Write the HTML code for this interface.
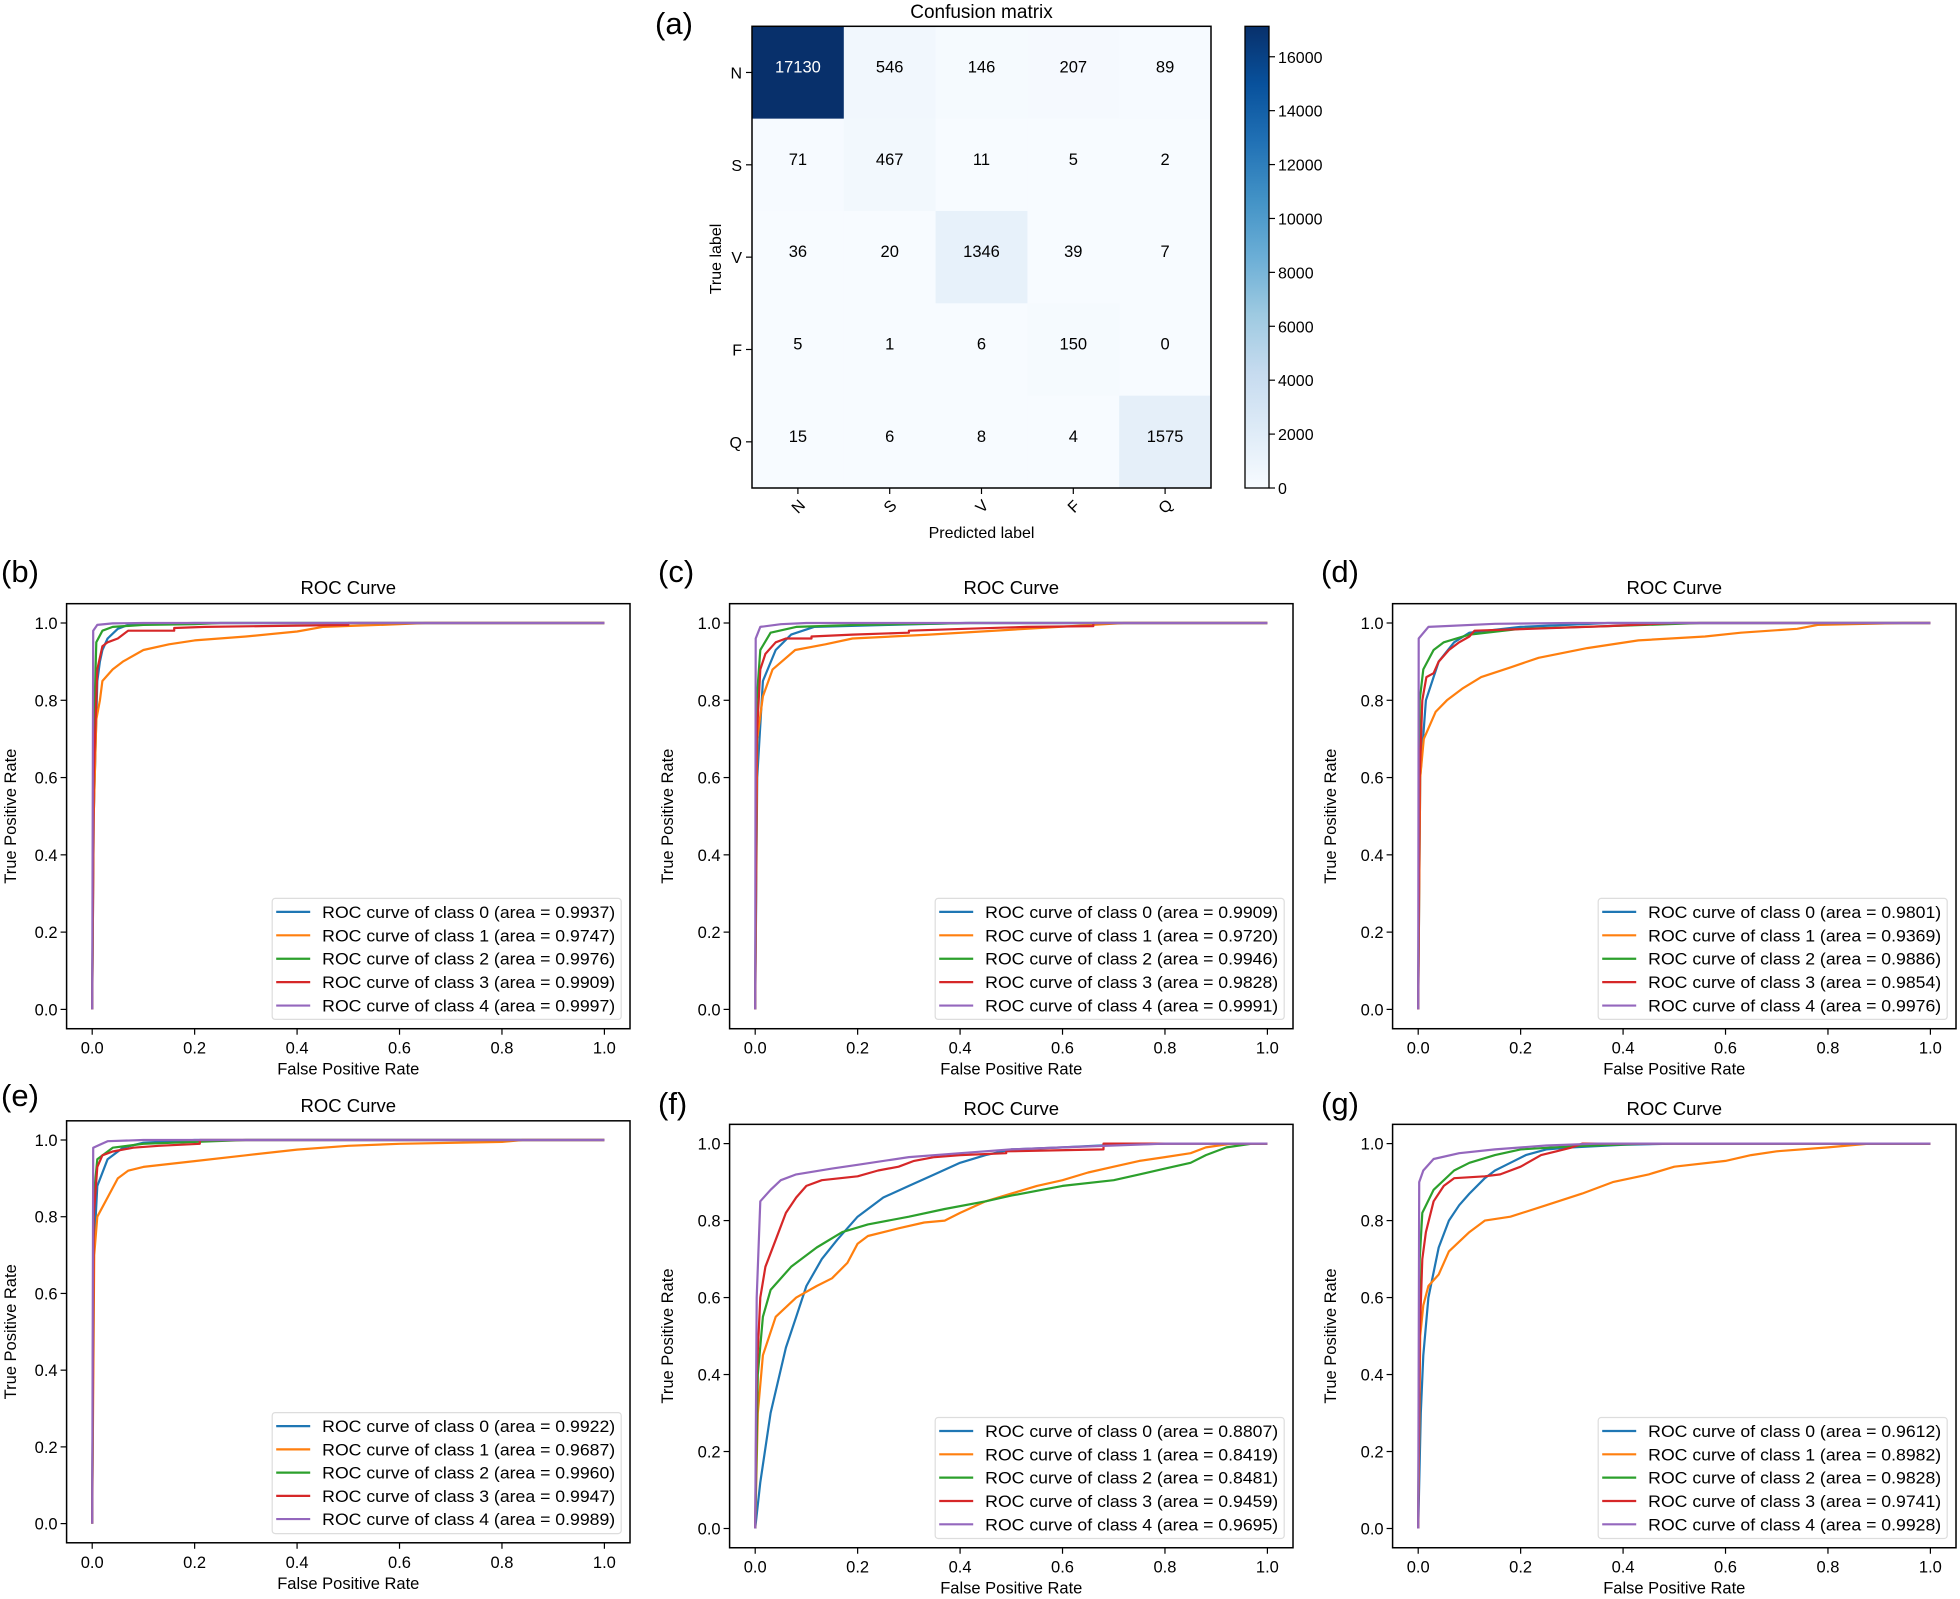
<!DOCTYPE html>
<html><head><meta charset="utf-8"><style>
body{margin:0;background:#fff}
svg{display:block;font-family:"Liberation Sans","DejaVu Sans",sans-serif}
</style></head><body>
<svg id="fig" width="1960" height="1599" viewBox="0 0 1960 1599" xmlns="http://www.w3.org/2000/svg"></svg>
<script>
// ---- Confusion matrix data ----
const cmLabels = ["N","S","V","F","Q"];
const cmRow0 = [17130,546,146,207,89];
const cmRow1 = [71,467,11,5,2];
const cmRow2 = [36,20,1346,39,7];
const cmRow3 = [5,1,6,150,0];
const cmRow4 = [15,6,8,4,1575];
const cmTicks = [0,2000,4000,6000,8000,10000,12000,14000,16000];

// ---- ROC data (fpr / tpr per class) ----
const rocTicks = [0,0.2,0.4,0.6,0.8,1.0];
const rocTickLabels = ["0.0","0.2","0.4","0.6","0.8","1.0"];
const bFpr = [[0,0.003,0.01,0.015,0.02,0.03,0.05,0.07,0.1,0.2,1],
 [0,0.003,0.008,0.015,0.02,0.04,0.06,0.1,0.15,0.2,0.3,0.4,0.45,0.6,0.65,1],
 [0,0.003,0.008,0.02,0.04,0.1,0.2,0.25,1],
 [0,0.003,0.01,0.02,0.03,0.05,0.07,0.16,0.16,0.22,0.5,0.5,1],
 [0,0.002,0.01,0.04,0.1,1]];
const bTpr = [[0,0.5,0.85,0.9,0.93,0.96,0.985,0.995,0.998,1,1],
 [0,0.5,0.75,0.8,0.85,0.88,0.9,0.93,0.945,0.955,0.965,0.978,0.99,0.997,1,1],
 [0,0.7,0.95,0.98,0.99,0.995,0.997,1,1],
 [0,0.6,0.88,0.94,0.95,0.96,0.98,0.98,0.987,0.99,0.995,1,1],
 [0,0.98,0.995,0.999,1,1]];
const bAreas = ["0.9937","0.9747","0.9976","0.9909","0.9997"];

const cFpr = [[0,0.004,0.015,0.04,0.07,0.115,0.26,0.41,1],
 [0,0.004,0.015,0.034,0.078,0.137,0.19,0.34,0.53,0.72,1],
 [0,0.003,0.01,0.03,0.08,0.2,0.42,1],
 [0,0.003,0.01,0.02,0.04,0.06,0.11,0.11,0.19,0.3,0.3,0.41,0.53,0.66,0.66,1],
 [0,0.001,0.01,0.05,0.1,1]];
const cTpr = [[0,0.6,0.85,0.93,0.97,0.99,0.995,1,1],
 [0,0.7,0.81,0.88,0.93,0.945,0.96,0.97,0.985,1,1],
 [0,0.8,0.93,0.975,0.99,0.995,1,1],
 [0,0.7,0.88,0.92,0.95,0.96,0.96,0.965,0.97,0.975,0.98,0.985,0.99,0.992,1,1],
 [0,0.96,0.99,0.997,1,1]];
const cAreas = ["0.9909","0.9720","0.9946","0.9828","0.9991"];

const dFpr = [[0,0.004,0.015,0.04,0.07,0.1,0.2,0.37,1],
 [0,0.004,0.011,0.034,0.056,0.086,0.123,0.18,0.235,0.33,0.43,0.56,0.63,0.74,0.78,0.945,1],
 [0,0.003,0.01,0.03,0.05,0.1,0.2,0.4,0.55,1],
 [0,0.003,0.008,0.016,0.03,0.04,0.06,0.08,0.1,0.11,0.22,0.37,0.5,1],
 [0,0.001,0.02,0.15,0.3,1]];
const dTpr = [[0,0.6,0.8,0.9,0.95,0.975,0.99,1,1],
 [0,0.6,0.7,0.77,0.8,0.83,0.86,0.885,0.91,0.935,0.955,0.965,0.975,0.985,0.995,1,1],
 [0,0.8,0.88,0.93,0.95,0.97,0.985,0.993,1,1],
 [0,0.6,0.8,0.86,0.87,0.9,0.93,0.95,0.965,0.98,0.985,0.992,1,1],
 [0,0.96,0.99,0.998,1,1]];
const dAreas = ["0.9801","0.9369","0.9886","0.9854","0.9976"];

const eFpr = [[0,0.003,0.01,0.03,0.06,0.1,0.2,1],
 [0,0.004,0.01,0.03,0.05,0.07,0.1,0.2,0.3,0.4,0.5,0.6,0.8,0.84,1],
 [0,0.003,0.01,0.04,0.1,0.3,1],
 [0,0.003,0.01,0.02,0.04,0.08,0.13,0.21,0.21,1],
 [0,0.002,0.03,0.1,1]];
const eTpr = [[0,0.7,0.88,0.95,0.98,0.993,1,1],
 [0,0.7,0.8,0.85,0.9,0.92,0.93,0.945,0.96,0.975,0.985,0.99,0.995,1,1],
 [0,0.85,0.95,0.98,0.99,1,1],
 [0,0.8,0.93,0.96,0.97,0.98,0.985,0.99,1,1],
 [0,0.98,0.997,1,1]];
const eAreas = ["0.9922","0.9687","0.9960","0.9947","0.9989"];

const fFpr = [[0,0.01,0.03,0.06,0.08,0.1,0.13,0.16,0.2,0.25,0.3,0.35,0.4,0.45,0.5,0.6,0.7,0.8,1],
 [0,0.005,0.015,0.04,0.08,0.12,0.15,0.18,0.2,0.22,0.28,0.33,0.37,0.4,0.45,0.5,0.55,0.6,0.65,0.7,0.75,0.8,0.85,0.88,0.93,1],
 [0,0.005,0.015,0.03,0.07,0.12,0.17,0.22,0.3,0.37,0.45,0.5,0.6,0.7,0.75,0.8,0.85,0.88,0.92,0.97,1],
 [0,0.003,0.01,0.02,0.04,0.06,0.08,0.1,0.13,0.2,0.24,0.28,0.31,0.35,0.4,0.49,0.49,0.68,0.68,1],
 [0,0.003,0.01,0.03,0.05,0.08,0.15,0.2,0.3,0.4,0.5,0.6,0.7,0.8,1]];
const fTpr = [[0,0.12,0.3,0.47,0.55,0.63,0.7,0.75,0.81,0.86,0.89,0.92,0.95,0.97,0.985,0.99,0.997,1,1],
 [0,0.3,0.45,0.55,0.6,0.63,0.65,0.69,0.74,0.76,0.78,0.795,0.8,0.82,0.85,0.87,0.89,0.905,0.925,0.94,0.955,0.965,0.975,0.99,1,1],
 [0,0.4,0.55,0.62,0.68,0.73,0.77,0.79,0.81,0.83,0.85,0.865,0.89,0.905,0.92,0.935,0.95,0.97,0.99,1,1],
 [0,0.4,0.6,0.68,0.75,0.82,0.86,0.89,0.905,0.915,0.93,0.94,0.955,0.965,0.97,0.975,0.98,0.985,1,1],
 [0,0.6,0.85,0.88,0.905,0.92,0.935,0.945,0.965,0.975,0.985,0.99,0.995,1,1]];
const fAreas = ["0.8807","0.8419","0.8481","0.9459","0.9695"];

const gFpr = [[0,0.005,0.01,0.02,0.04,0.06,0.08,0.1,0.13,0.15,0.18,0.21,0.25,0.3,0.4,0.5,1],
 [0,0.004,0.01,0.02,0.04,0.06,0.1,0.13,0.18,0.25,0.32,0.38,0.45,0.5,0.6,0.65,0.7,0.8,0.88,1],
 [0,0.003,0.008,0.03,0.07,0.1,0.15,0.2,0.3,0.45,1],
 [0,0.003,0.008,0.015,0.03,0.05,0.07,0.13,0.16,0.2,0.24,0.27,0.3,0.32,1],
 [0,0.002,0.01,0.03,0.08,0.15,0.25,0.35,1]];
const gTpr = [[0,0.3,0.45,0.6,0.73,0.8,0.84,0.87,0.91,0.93,0.95,0.97,0.985,0.99,0.997,1,1],
 [0,0.5,0.58,0.63,0.66,0.72,0.77,0.8,0.81,0.84,0.87,0.9,0.92,0.94,0.955,0.97,0.98,0.99,1,1],
 [0,0.7,0.82,0.88,0.93,0.95,0.97,0.985,0.993,1,1],
 [0,0.5,0.7,0.77,0.85,0.89,0.91,0.915,0.92,0.94,0.97,0.98,0.99,1,1],
 [0,0.9,0.93,0.96,0.975,0.985,0.995,1,1]];
const gAreas = ["0.9612","0.8982","0.9828","0.9741","0.9928"];

const NS = "http://www.w3.org/2000/svg";
const svg = document.getElementById("fig");
const colors = ["#1f77b4","#ff7f0e","#2ca02c","#d62728","#9467bd"];

function mk(tag, attrs, parent, txt){
  const e = document.createElementNS(NS, tag);
  for (const k in attrs) e.setAttribute(k, attrs[k]);
  if (txt !== undefined) e.textContent = txt;
  (parent || svg).appendChild(e);
  return e;
}

const bluesStops = [[247,251,255],[222,235,247],[198,219,239],[158,202,225],[107,174,214],[66,146,198],[33,113,181],[8,81,156],[8,48,107]];
function blues(t){
  t = Math.max(0, Math.min(1, t));
  const p = t*(bluesStops.length-1), i = Math.min(Math.floor(p), bluesStops.length-2), f = p-i;
  const a = bluesStops[i], b = bluesStops[i+1];
  return "rgb(" + a.map((v,k)=>Math.round(v+(b[k]-v)*f)).join(",") + ")";
}

// ---- Confusion matrix ----
const cmRows = [cmRow0,cmRow1,cmRow2,cmRow3,cmRow4];
const cmL = 752, cmR = 1211, cmT = 26.3, cmB = 488;
const cw = (cmR-cmL)/5, ch = (cmB-cmT)/5;
const cmVmax = Math.max(...cmRows.flat());
const cmG = mk("g", {});


cmRows.forEach((row, i) => {
  row.forEach((v, j) => {
    const r = mk("rect", {x: cmL+j*cw, y: cmT+i*ch, width: cw+0.5, height: ch+0.5, fill: blues(v/cmVmax)}, cmG);
    
    
    const t = mk("text", {x: cmL+(j+0.5)*cw, y: cmT+(i+0.5)*ch, "text-anchor": "middle", "font-size": 16.5, fill: v > cmVmax/2 ? "#fff" : "#000"}, cmG, String(v));
    
    
  });
});
mk("rect", {x: cmL, y: cmT, width: cmR-cmL, height: cmB-cmT, fill: "none", stroke: "#000", "stroke-width": 1.5}, cmG);
cmLabels.forEach((lab, i) => {
  const y = cmT+(i+0.5)*ch;
  mk("line", {x1: cmL-6, x2: cmL, y1: y, y2: y, stroke: "#000", "stroke-width": 1.2}, cmG);
  const t = mk("text", {x: cmL-10, y: y+6, "text-anchor": "end", "font-size": 16}, cmG, lab);
  
  
  const x = cmL+(i+0.5)*cw;
  mk("line", {x1: x, x2: x, y1: cmB, y2: cmB+6, stroke: "#000", "stroke-width": 1.2}, cmG);
  const t2 = mk("text", {x: x, y: cmB+24, "text-anchor": "middle", "font-size": 16, transform: "rotate(-45 " + x + " " + (cmB+18) + ")"}, cmG, lab);
  
  
});
let tt = mk("text", {x: (cmL+cmR)/2, y: 18, "text-anchor": "middle", "font-size": 19}, cmG, "Confusion matrix");
 
tt = mk("text", {x: (cmL+cmR)/2, y: 538, "text-anchor": "middle", "font-size": 16}, cmG, "Predicted label");
 
tt = mk("text", {x: 721, y: 259, "text-anchor": "middle", "font-size": 16, transform: "rotate(-90 721 259)"}, cmG, "True label");
 
tt = mk("text", {x: 655, y: 34, "font-size": 31}, cmG, "(a)");
 

const defs = mk("defs", {});
const grad = mk("linearGradient", {id: "cbg", x1: 0, y1: 1, x2: 0, y2: 0}, defs);
for (let k = 0; k <= 8; k++) mk("stop", {offset: k/8, "stop-color": blues(k/8)}, grad);
const cbL = 1245, cbR = 1269, cbT = 26.3, cbB = 488;
const cbar = mk("rect", {x: cbL, y: cbT, width: cbR-cbL, height: cbB-cbT, fill: "url(#cbg)", stroke: "#000", "stroke-width": 1.3});


cmTicks.forEach(v => {
  const y = cbB - (v/cmVmax)*(cbB-cbT);
  mk("line", {x1: cbR, x2: cbR+6, y1: y, y2: y, stroke: "#000", "stroke-width": 1.2});
  const t = mk("text", {x: cbR+9, y: y+6, "font-size": 16}, svg, String(v));
  
  
});

// ---- ROC panels ----
function rocPanel(name, label, ox, x0, x1, y0, y1, fprs, tprs, areas, titleY, labelY){
  const g = mk("g", {});
  
  
  const ux = x1-x0, uy = y0-y1;
  const sx = v => x0 + v*ux, sy = v => y0 - v*uy;
  const L = sx(-0.05), R = sx(1.05), T = sy(1.05), B = sy(-0.05);
  mk("rect", {x: L, y: T, width: R-L, height: B-T, fill: "#fff"}, g);
  fprs.forEach((fx, c) => {
    const pts = fx.map((v, k) => sx(v).toFixed(1) + "," + sy(tprs[c][k]).toFixed(1)).join(" ");
    const p = mk("polyline", {points: pts, fill: "none", stroke: colors[c], "stroke-width": 2.2, "stroke-linejoin": "round"}, g);
    
    
  });
  mk("rect", {x: L, y: T, width: R-L, height: B-T, fill: "none", stroke: "#000", "stroke-width": 1.5}, g);
  rocTicks.forEach((v, k) => {
    const x = sx(v), y = sy(v);
    mk("line", {x1: x, x2: x, y1: B, y2: B+6, stroke: "#000", "stroke-width": 1.2}, g);
    let t = mk("text", {x: x, y: B+25, "text-anchor": "middle", "font-size": 16.5}, g, rocTickLabels[k]);
     
    mk("line", {x1: L-6, x2: L, y1: y, y2: y, stroke: "#000", "stroke-width": 1.2}, g);
    t = mk("text", {x: L-9, y: y+6, "text-anchor": "end", "font-size": 16.5}, g, rocTickLabels[k]);
     
  });
  let t = mk("text", {x: (L+R)/2, y: titleY, "text-anchor": "middle", "font-size": 18.5}, g, "ROC Curve");
   
  t = mk("text", {x: (L+R)/2, y: B+46, "text-anchor": "middle", "font-size": 16.5}, g, "False Positive Rate");
   
  const yc = (T+B)/2, xl = ox+15;
  t = mk("text", {x: xl, y: yc+1, "text-anchor": "middle", "font-size": 16.5, transform: "rotate(-90 " + xl + " " + yc + ")"}, g, "True Positive Rate");
   
  t = mk("text", {x: ox+1, y: labelY+11, "font-size": 31}, g, label);
   
  const lg = mk("g", {}, g);
  
  
  const step = uy*0.0606;
  mk("rect", {x: x0+180, y: y0-111, width: 349, height: 121, rx: 3, fill: "#fff", "fill-opacity": 0.8, stroke: "#ddd", "stroke-width": 1.2}, lg);
  areas.forEach((a, c) => {
    const y = y0 - 97.5 + c*step;
    const ln = mk("line", {x1: x0+184, x2: x0+218, y1: y, y2: y, stroke: colors[c], "stroke-width": 2.2}, lg);
    
    
    const tx = mk("text", {x: x0+230, y: y+6, "font-size": 16.5, textLength: 293, lengthAdjust: "spacingAndGlyphs"}, lg, "ROC curve of class " + c + " (area = " + a + ")");
    
    
  });
}

rocPanel("b", "(b)", 0, 92.2, 604.4, 1009.4, 623, bFpr, bTpr, bAreas, 594, 571);
rocPanel("c", "(c)", 657, 755.2, 1267.4, 1009.4, 623, cFpr, cTpr, cAreas, 594, 571);
rocPanel("d", "(d)", 1320, 1418.2, 1930.4, 1009.4, 623, dFpr, dTpr, dAreas, 594, 571);
rocPanel("e", "(e)", 0, 92.2, 604.4, 1523.6, 1140, eFpr, eTpr, eAreas, 1112, 1095);
rocPanel("f", "(f)", 657, 755.2, 1267.4, 1528.5, 1143.6, fFpr, fTpr, fAreas, 1115, 1103);
rocPanel("g", "(g)", 1320, 1418.2, 1930.4, 1528.5, 1143.6, gFpr, gTpr, gAreas, 1115, 1103);
</script>
</body></html>
